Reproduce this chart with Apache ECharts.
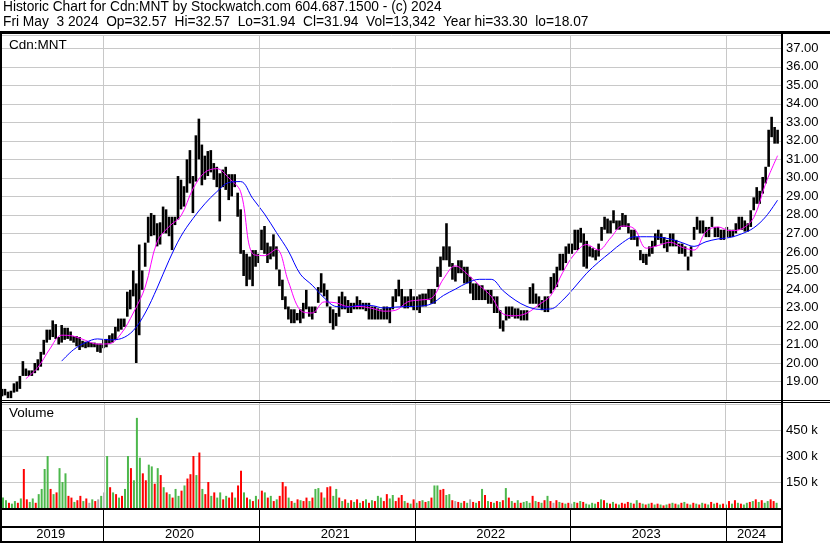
<!DOCTYPE html>
<html><head><meta charset="utf-8">
<script src="https://cdn.jsdelivr.net/npm/echarts@6/dist/echarts.min.js"></script>
<style>html,body{margin:0;padding:0;background:#fff}#c{width:830px;height:543px}</style>
</head><body><div id="c"></div>
<script>
// ---- data (weekly bars, first bar = week of 2019-05-06, plotted mid-week) ----
const firstWeek = [2019, 4, 8];
const weekHigh = [
18.6,18.6,18.45,18.5,18.9,19.0,19.3,20.1,19.7,19.6,19.6,20.0,20.2,20.6,21.25,21.8,21.8,22.3,22.1,21.4,
22.05,21.9,21.9,21.7,21.45,21.45,21.4,21.2,21.15,21.15,21.1,21.1,21.05,21.05,21.25,21.3,21.5,21.6,21.95,22.4,
22.4,22.4,23.85,23.95,25.0,24.3,26.4,25.0,26.5,27.9,28.1,28.0,27.55,27.6,28.45,28.3,27.9,27.9,27.9,30.1,
29.9,29.55,31.0,31.5,30.1,32.3,33.2,31.8,31.2,31.45,31.5,30.8,30.6,30.25,30.45,30.6,30.2,30.2,30.2,29.2,
28.3,26.1,25.9,25.75,26.1,26.1,25.9,27.2,27.4,26.5,26.3,26.95,26.3,25.05,24.5,23.6,23.05,22.9,22.9,22.7,
22.9,23.25,23.95,23.05,23.05,23.05,24.1,24.85,24.3,23.95,23.05,22.9,22.7,23.6,23.85,23.6,23.4,23.25,23.25,23.6,
23.4,23.25,23.25,23.25,23.05,23.05,22.95,22.9,23.05,23.05,23.0,23.6,24.0,24.5,24.0,23.6,23.6,24.0,23.6,23.6,
23.7,23.75,23.75,24.0,24.0,24.0,25.2,25.75,26.3,27.55,26.3,25.4,25.2,25.55,25.55,25.2,25.2,24.65,24.3,24.3,
24.2,24.2,23.95,23.95,23.95,23.6,23.6,22.85,22.3,23.05,23.05,23.05,22.95,22.95,22.85,22.85,22.85,24.1,24.3,23.75,
23.6,23.4,23.6,23.6,24.65,24.85,25.2,25.9,25.9,26.3,26.45,26.45,27.2,27.2,27.3,27.0,26.6,26.3,26.2,26.1,
26.45,27.35,27.9,27.8,27.7,28.25,27.7,27.7,28.1,28.0,27.55,27.2,27.2,26.8,26.1,25.9,25.9,26.3,26.6,27.0,
27.2,27.0,26.8,26.65,27.0,27.0,26.65,26.45,26.45,26.3,25.75,26.3,27.35,27.9,27.7,27.7,27.35,27.35,27.9,27.35,
27.35,27.2,27.2,27.35,27.2,27.2,27.55,27.9,27.9,27.7,27.55,28.25,28.95,29.5,29.3,30.05,30.6,32.6,33.3,32.75,
32.6];
const weekLow = [
18.2,18.25,18.1,18.1,18.4,18.45,18.6,19.3,19.3,19.3,19.3,19.45,19.6,19.8,20.45,21.1,21.25,21.4,21.3,21.0,
21.1,21.25,21.3,21.2,21.1,20.9,20.7,20.85,20.8,20.85,20.85,20.85,20.6,20.55,20.8,20.85,21.05,21.1,21.25,21.7,
21.8,21.95,22.5,22.9,23.6,20.0,21.5,23.95,25.2,26.5,26.85,26.9,26.3,26.4,27.0,27.0,26.85,26.1,27.45,27.75,
28.3,28.45,29.2,29.7,28.1,29.8,31.0,29.6,29.9,30.1,30.3,29.9,29.5,27.65,29.5,29.35,28.8,29.0,29.5,27.9,
25.9,24.7,24.15,24.5,24.15,25.2,25.4,26.1,25.9,25.4,25.6,25.75,25.05,24.15,23.4,22.9,22.35,22.15,22.15,22.3,
22.15,22.4,22.9,22.5,22.35,22.7,23.25,23.8,23.6,23.05,22.15,21.8,22.0,22.5,22.9,22.9,22.7,22.7,22.9,22.9,
22.9,22.9,22.8,22.35,22.35,22.35,22.35,22.35,22.35,22.35,22.15,22.9,23.3,23.6,23.05,22.95,22.95,23.05,22.85,22.85,
22.7,23.05,23.05,23.4,23.2,23.2,24.1,24.65,25.55,25.55,25.2,24.5,24.4,24.85,24.85,24.3,24.3,23.75,23.4,23.4,
23.4,23.4,23.4,23.2,23.2,22.7,22.7,21.85,21.7,22.3,22.4,22.5,22.4,22.4,22.3,22.3,22.3,23.2,23.2,23.2,
23.0,22.85,22.75,22.75,23.75,23.95,24.1,25.0,25.0,25.4,25.9,25.9,26.1,26.1,26.5,25.2,25.1,25.75,25.7,25.55,
25.75,26.6,27.2,27.0,27.0,27.55,27.2,27.2,27.35,27.35,27.0,26.65,26.65,26.3,25.55,25.4,25.3,25.75,25.9,26.3,
26.65,26.45,26.2,26.0,26.3,26.3,26.3,25.9,25.9,25.75,25.0,25.75,26.65,27.2,27.0,27.0,26.8,26.8,27.35,26.8,
26.8,26.65,26.65,26.8,26.8,26.8,27.0,27.2,27.2,27.1,27.1,27.35,28.25,28.6,28.6,29.15,29.7,30.6,32.2,31.85,
31.85];
// moving averages read every 4 weeks (index k -> week 4k)
const maFast = [null,null,19.15,19.75,20.75,21.5,21.45,21.22,21.02,21.04,21.6,22.7,24.1,26.55,27.37,27.95,29.4,30.3,30.5,30.0,
29.25,25.9,25.8,26.15,24.4,22.85,22.7,23.3,23.25,23.05,23.05,22.95,22.8,22.85,23.3,23.4,23.5,24.55,25.25,24.8,
24.2,23.6,22.65,22.55,22.7,23.15,23.65,24.9,25.9,26.4,26.1,26.75,27.4,27.25,26.2,26.35,26.52,26.25,26.1,27.1,
27.35,27.15,27.25,27.85,29.7,31.2];
const maSlow = [null,null,null,null,null,20.1,20.72,21.1,21.3,21.25,21.32,21.75,22.7,24.05,25.55,26.85,27.8,28.6,29.25,29.75,
29.8,28.9,28.05,27.05,26.05,24.8,24.2,23.52,23.05,23.02,23.12,23.1,22.97,23.02,23.05,23.07,23.2,23.65,23.99,24.33,
24.52,24.52,23.9,23.4,23.05,22.9,22.92,23.4,24.1,24.85,25.45,25.98,26.5,26.82,26.82,26.8,26.7,26.5,26.3,26.55,
26.7,26.78,26.98,27.3,27.9,28.8];
// weekly volume (thousands) and direction g=up r=down n=unchanged
const weekVol = [
60,45,30,25,40,30,55,225,50,35, 55,30,80,110,225,300,110,80,90,230, 150,200,70,60,35,45,70,40,55,30,
50,40,50,70,90,300,120,90,80,60, 70,110,300,230,160,520,290,200,160,250, 240,140,230,190,120,90,80,60,110,70,
100,130,170,195,300,190,320,110,80,150, 70,90,60,90,50,70,60,90,60,130, 215,90,60,50,40,70,50,100,90,60,
70,40,50,70,150,125,60,40,30,50, 45,40,60,40,60,110,115,90,60,120, 125,70,110,60,40,50,30,45,35,50,
30,40,50,30,45,40,70,60,40,80, 55,75,40,60,75,40,30,25,50,30, 40,45,35,40,60,130,130,105,110,75,
80,45,40,35,30,40,30,50,35,30, 40,110,75,40,35,30,40,35,45,115, 60,40,30,45,30,35,40,30,70,40,
35,30,45,70,40,30,45,35,30,25, 30,25,35,30,40,35,25,20,30,25, 35,50,45,30,25,35,25,20,30,25,
35,30,25,45,30,25,20,25,30,20, 25,20,15,20,25,30,25,20,30,35, 25,20,30,25,20,30,25,20,35,25,
30,20,25,20,40,25,45,30,25,20, 30,35,40,50,35,45,30,40,50,40, 30];
const weekDir = "ggrggrgrrggrggggrgrgggrrgrrgrngrngngrgrgrggrgggrrggrgrgrgrggrgrrrgrgrrgrggrgrrgrrgrgrgrrgrgrgrrrgrgrgrrgrggrgrrggrgrgrgrgrgrgrggrrggrrrgrgrgrgrgrggrrggrnrgrgnrgrgrgrgrgrgrgrgrgggrgrgrgrnrgrgrngrgrggggrgrgrgrgrrrgrgrgrgrgrgrgrgrgrgrgrgrgrgrgrgrgrgrgrggrgrgrggrr";
const yearLabels = ['2019','2020','2021','2022','2023','2024'];
const priceTickMin = 19, priceTickMax = 37;
const volTicks = [150000, 300000, 450000];

// ---- build ----
const DAY = 864e5;
const t0 = Date.UTC(firstWeek[0], firstWeek[1], firstWeek[2]);
const xMin = Date.UTC(2019, 4, 8), xMax = Date.UTC(2024, 4, 9);
const wk = i => t0 + i * 7 * DAY;
const priceData = weekHigh.map((h, i) => [wk(i), h, weekLow[i]]);
const fastData = maFast.map((v, k) => [wk(4 * k), v]).filter(d => d[1] != null);
const slowData = maSlow.map((v, k) => [wk(4 * k), v]).filter(d => d[1] != null);
const dirColor = {g: '#4cb84c', r: '#ff0000', n: '#a8a8a8'};
const volData = weekVol.map((v, i) => ({value: [wk(i), v * 1000], itemStyle: {color: dirColor[weekDir[i]] || '#4cb84c'}}));
const yearStarts = yearLabels.slice(1).map(y => Date.UTC(+y, 0, 1));
const yearAreas = yearLabels.map(y => {
  const a = Math.max(Date.UTC(+y, 0, 1), xMin), b = Math.min(Date.UTC(+y + 1, 0, 1), xMax);
  return [{xAxis: a, name: y}, {xAxis: b}];
});
const FONT = 'Liberation Sans';
const L = 2, W = 779;
const grids = [
  {left: L, width: W, top: 35, height: 365},
  {left: L, width: W, top: 402, height: 106},
  {left: L, width: W, top: 510, height: 31},
  {left: L, width: W, top: 527, height: 14}
];
const xAxes = grids.map((g, i) => ({gridIndex: i, type: 'time', min: xMin, max: xMax, show: false}));
const yAxes = [
  {gridIndex: 0, type: 'value', position: 'right', min: 18, max: 37.72, interval: 1,
   axisLine: {show: false}, axisTick: {show: false},
   splitLine: {lineStyle: {color: '#c8c8c8', width: 1}},
   axisLabel: {margin: 5, fontSize: 13, fontFamily: FONT, color: '#000',
     formatter: v => (v >= priceTickMin && v <= priceTickMax && Math.abs(v - Math.round(v)) < 1e-6) ? v.toFixed(2) : ''}},
  {gridIndex: 1, type: 'value', position: 'right', min: 0, max: 611538, interval: 150000,
   axisLine: {show: false}, axisTick: {show: false},
   splitLine: {lineStyle: {color: '#c8c8c8', width: 1}},
   axisLabel: {margin: 5, fontSize: 13, fontFamily: FONT, color: '#000',
     formatter: v => volTicks.indexOf(v) >= 0 ? (v / 1000) + ' k' : ''}},
  {gridIndex: 2, type: 'value', min: 0, max: 1, show: false},
  {gridIndex: 3, type: 'value', min: 0, max: 1, show: false}
];
const vLines = (color) => ({silent: true, symbol: ['none', 'none'], label: {show: false},
  lineStyle: {color: color, type: 'solid', width: 1}, data: yearStarts.map(t => ({xAxis: t}))});

const series = [
  {type: 'line', xAxisIndex: 0, yAxisIndex: 0, data: [], z: 1, markLine: vLines('#c8c8c8')},
  {type: 'line', xAxisIndex: 1, yAxisIndex: 1, data: [], z: 1, markLine: vLines('#c8c8c8')},
  {type: 'line', xAxisIndex: 2, yAxisIndex: 2, data: [], z: 1, markLine: vLines('#000')},
  {type: 'line', xAxisIndex: 3, yAxisIndex: 3, data: [], z: 1,
   markArea: {silent: true, itemStyle: {color: 'rgba(0,0,0,0)'},
     label: {show: true, position: 'inside', offset: [-2, 0], color: '#000', fontSize: 13, fontFamily: FONT, formatter: '{b}'},
     data: yearAreas}},
  {type: 'custom', xAxisIndex: 0, yAxisIndex: 0, z: 3, data: priceData,
   encode: {x: 0, y: [1, 2]},
   renderItem: (params, api) => {
     const t = api.value(0);
     const a = api.coord([t, api.value(1)]);
     const b = api.coord([t, api.value(2)]);
     return {type: 'rect', shape: {x: a[0] - 1.3, y: a[1], width: 2.6, height: Math.max(1, b[1] - a[1])},
       style: {fill: '#000'}};
   }},
  {type: 'line', xAxisIndex: 0, yAxisIndex: 0, z: 4, data: fastData, showSymbol: false, smooth: 0.35,
   lineStyle: {color: '#ff00ff', width: 1}},
  {type: 'line', xAxisIndex: 0, yAxisIndex: 0, z: 4, data: slowData, showSymbol: false, smooth: 0.35,
   lineStyle: {color: '#0000ff', width: 1}},
  {type: 'bar', xAxisIndex: 1, yAxisIndex: 1, z: 3, data: volData, barWidth: 2}
];

const txt = (x, y, s, size) => ({type: 'text', x: x, y: y, z: 100,
  style: {text: s, fill: '#000', font: size + 'px "' + FONT + '"', textVerticalAlign: 'middle'}});
const rect = (x, y, w, h) => ({type: 'rect', z: 100, shape: {x: x, y: y, width: w, height: h}, style: {fill: '#000'}});
const graphic = [
  txt(3, 7.5, 'Historic Chart for Cdn:MNT by Stockwatch.com 604.687.1500 - (c) 2024', 13.75),
  txt(3, 22, 'Fri May  3 2024  Op=32.57  Hi=32.57  Lo=31.94  Cl=31.94  Vol=13,342  Year hi=33.30  lo=18.07', 13.75),
  txt(9, 45, 'Cdn:MNT', 13.5),
  txt(9, 413, 'Volume', 13.5),
  rect(0, 31, 830, 3),
  rect(0, 31, 2, 512),
  rect(781, 31, 2, 512),
  rect(0, 400, 830, 1),
  rect(0, 402, 830, 1),
  rect(0, 508, 783, 2),
  rect(0, 526, 783, 2),
  rect(0, 541, 783, 2)
];

const chart = echarts.init(document.getElementById('c'), null, {renderer: 'canvas'});
chart.setOption({animation: false, backgroundColor: '#fff', grid: grids, xAxis: xAxes, yAxis: yAxes,
  series: series, graphic: graphic});
</script></body></html>
